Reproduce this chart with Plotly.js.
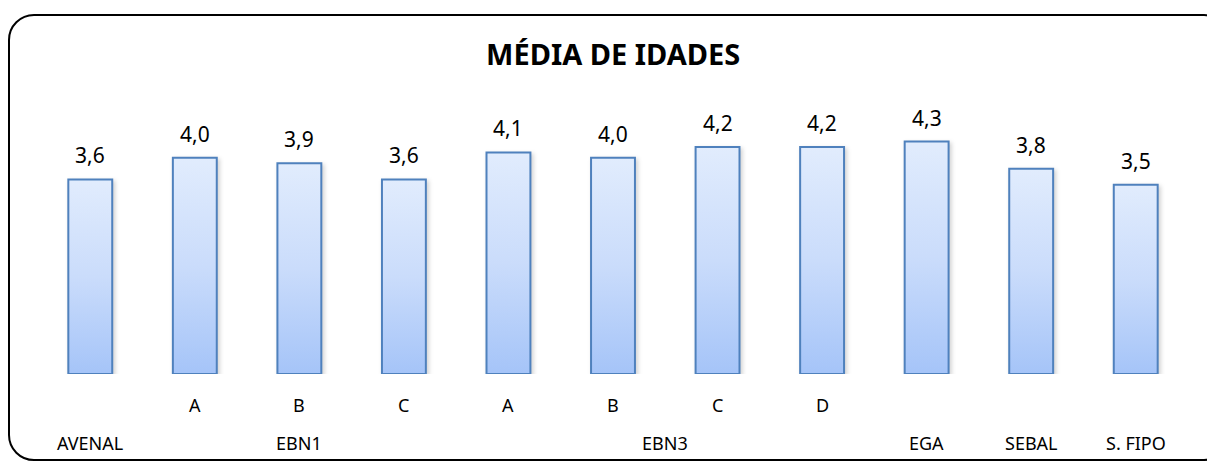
<!DOCTYPE html>
<html>
<head>
<meta charset="utf-8">
<script src="https://cdn.plot.ly/plotly-3.0.1.min.js"></script>
<style>
  html, body { margin: 0; padding: 0; background: #fff; width: 1207px; height: 461px; overflow: hidden; }
  #frame { position: absolute; left: 8px; top: 14px; width: 1222px; height: 447px; border: 2px solid #000; border-radius: 26px; box-sizing: border-box; }
  #chart { position: absolute; left: 0; top: 0; width: 1207px; height: 461px; }
</style>
</head>
<body>
<div id="frame"></div>
<div id="chart"></div>
<script>
const groups = ['AVENAL', 'EBN1', 'EBN1', 'EBN1', 'EBN3', 'EBN3', 'EBN3', 'EBN3', 'EGA', 'SEBAL', 'S. FIPO'];
const subLabels = ['', 'A', 'B', 'C', 'A', 'B', 'C', 'D', '', '', ''];
const values = [3.6, 4.0, 3.9, 3.6, 4.1, 4.0, 4.2, 4.2, 4.3, 3.8, 3.5];

const xs = values.map((v, i) => i);
const font = 'Noto Sans, DejaVu Sans, sans-serif';

const annotations = [];
// value labels
values.forEach((v, i) => {
  annotations.push({
    x: xs[i], y: v, xref: 'x', yref: 'y', text: v.toFixed(1).replace('.', ','),
    showarrow: false, yanchor: 'bottom', yshift: 8,
    font: { family: font, size: 21, color: '#000' }
  });
});
// sub category labels
subLabels.forEach((s, i) => {
  if (!s) return;
  annotations.push({
    x: xs[i], y: 0, xref: 'x', yref: 'paper', text: s, showarrow: false,
    yanchor: 'middle', yshift: -31, font: { family: font, size: 18, color: '#000' }
  });
});
// group labels (centered over group members)
const seen = {};
groups.forEach((g, i) => { (seen[g] = seen[g] || []).push(xs[i]); });
Object.keys(seen).forEach(g => {
  const arr = seen[g];
  const cx = arr.reduce((a, b) => a + b, 0) / arr.length;
  annotations.push({
    x: cx, y: 0, xref: 'x', yref: 'paper', text: g, showarrow: false,
    yanchor: 'middle', yshift: -69, font: { family: font, size: 18, color: '#000' }
  });
});

const trace = {
  type: 'bar', x: xs, y: values,
  marker: { color: '#c4d9fb', line: { color: '#4f81bd', width: 2 } },
  hoverinfo: 'none'
};

const layout = {
  width: 1207, height: 461,
  margin: { l: 38, r: 19, t: 60, b: 87 },
  paper_bgcolor: 'rgba(0,0,0,0)', plot_bgcolor: 'rgba(0,0,0,0)',
  bargap: 0.58,
  showlegend: false,
  title: { text: '<b>MÉDIA DE IDADES</b>', x: 0.508, xanchor: 'center', y: 0.88, yanchor: 'middle',
           font: { family: font, size: 29, color: '#000' } },
  xaxis: { range: [-0.5, 10.5], showticklabels: false, showgrid: false, zeroline: false, showline: false, ticks: '' },
  yaxis: { range: [0, 5.81], visible: false, showgrid: false, zeroline: false },
  annotations: annotations
};

Plotly.newPlot('chart', [trace], layout, { staticPlot: true, displayModeBar: false }).then(gd => {
  const svg = gd.querySelector('svg.main-svg');
  const ns = 'http://www.w3.org/2000/svg';
  let defs = svg.querySelector('defs');
  if (!defs) { defs = document.createElementNS(ns, 'defs'); svg.insertBefore(defs, svg.firstChild); }
  const lg = document.createElementNS(ns, 'linearGradient');
  lg.setAttribute('id', 'barGrad');
  lg.setAttribute('x1', '0'); lg.setAttribute('y1', '0'); lg.setAttribute('x2', '0'); lg.setAttribute('y2', '1');
  [['0', '#e1ecfd'], ['0.5', '#cadcfb'], ['1', '#a5c4f8']].forEach(([o, c]) => {
    const st = document.createElementNS(ns, 'stop');
    st.setAttribute('offset', o); st.setAttribute('stop-color', c);
    lg.appendChild(st);
  });
  defs.appendChild(lg);
  gd.querySelectorAll('.barlayer .point path').forEach(p => {
    p.style.fill = 'url(#barGrad)';
    p.style.filter = 'drop-shadow(2px 2px 2px rgba(0,0,0,0.18))';
  });
});
</script>
</body>
</html>
